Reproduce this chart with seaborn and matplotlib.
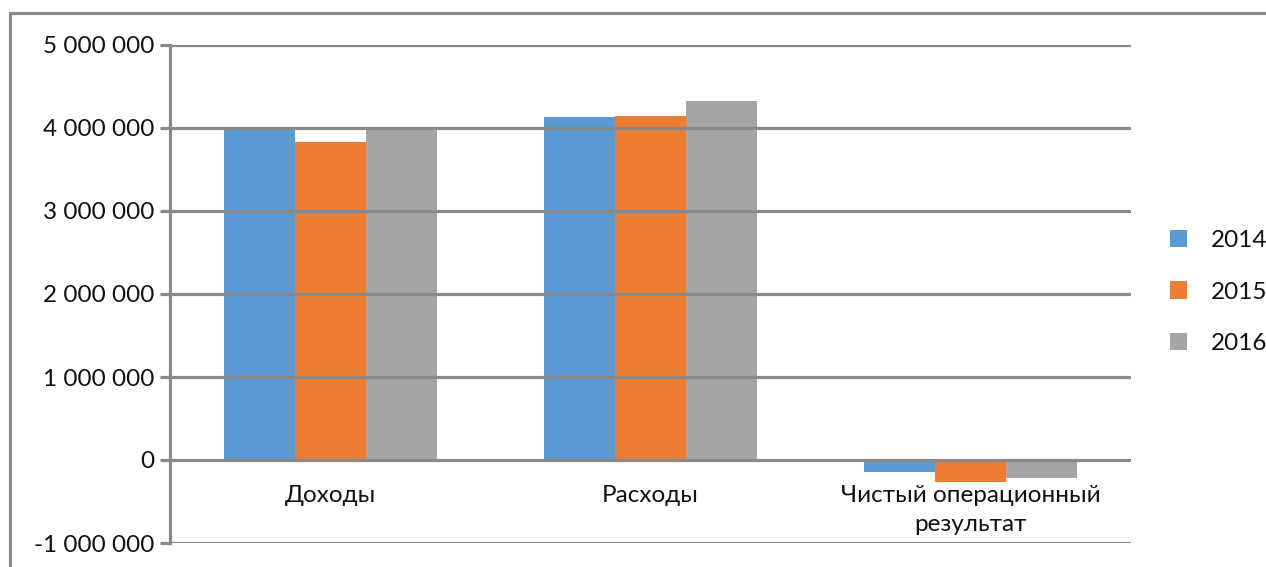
import matplotlib
matplotlib.use("Agg")
import matplotlib.pyplot as plt
from matplotlib.lines import Line2D
from matplotlib.patches import Patch
from matplotlib.ticker import FuncFormatter, MultipleLocator
import seaborn as sns
import pandas as pd

categories = ["Доходы", "Расходы", "Чистый операционный\nрезультат"]
years = ["2014", "2015", "2016"]
values_2014 = [4010000, 4130000, -140000]
values_2015 = [3835000, 4150000, -260000]
values_2016 = [3990000, 4320000, -220000]
colors = ["#5B9BD5", "#ED7D31", "#A5A5A5"]

rows = []
for yr, vals in zip(years, [values_2014, values_2015, values_2016]):
    for c, v in zip(categories, vals):
        rows.append({"cat": c, "year": yr, "value": v})
df = pd.DataFrame(rows)

sns.set_theme(style="white")
plt.rcParams["font.family"] = ["Lato", "DejaVu Sans"]

fig = plt.figure(figsize=(12.66, 5.67), dpi=100)
ax = fig.add_axes([170 / 1266, 1 - 543 / 567, (1131 - 170) / 1266, (543 - 45) / 567])

sns.barplot(data=df, x="cat", y="value", hue="year", palette=colors,
            width=0.664, ax=ax, legend=False, saturation=1, errorbar=None,
            linewidth=0, edgecolor="none")

gc = "#898989"
ax.set_ylim(-1000000, 5000000)
ax.yaxis.set_major_locator(MultipleLocator(1000000))
ax.yaxis.set_major_formatter(FuncFormatter(lambda v, p: "{:,.0f}".format(v).replace(",", " ")))
ax.set_axisbelow(False)
ax.grid(axis="y", color=gc, linewidth=2.3)
ax.grid(axis="x", visible=False)
for s in ["top", "right", "bottom"]:
    ax.spines[s].set_visible(False)
ax.spines["left"].set_color(gc)
ax.spines["left"].set_linewidth(2.3)
ax.tick_params(axis="y", left=True, length=7.5, width=2.3, color=gc, pad=4,
               labelsize=17.5, labelcolor="#111111")
ax.set_xticks([])
ax.set_xlabel("")
ax.set_ylabel("")
ax.set_xlim(-0.5, 2.5)

for i, c in enumerate(categories):
    ax.text(i, -300000, c, ha="center", va="top", fontsize=17.5, color="#111111",
            linespacing=1.45)

handles = [Patch(facecolor=col, edgecolor="none", label=yr) for yr, col in zip(years, colors)]
fig.legend(handles=handles, loc="center left", bbox_to_anchor=(1170 / 1266, 1 - 292 / 567),
           frameon=False, fontsize=17.5, handlelength=0.7, handleheight=0.7,
           handletextpad=1.0, labelspacing=1.25, labelcolor="#111111",
           borderpad=0, borderaxespad=0)

# outer frame (partial, as in screenshot)
fig.add_artist(Line2D([10 / 1266, 1.0], [1 - 13 / 567, 1 - 13 / 567], color=gc, linewidth=2.3,
                      transform=fig.transFigure))
fig.add_artist(Line2D([10 / 1266, 10 / 1266], [0.0, 1 - 13 / 567], color=gc, linewidth=2.3,
                      transform=fig.transFigure))

fig.savefig("out.png", dpi=100, facecolor="white")
